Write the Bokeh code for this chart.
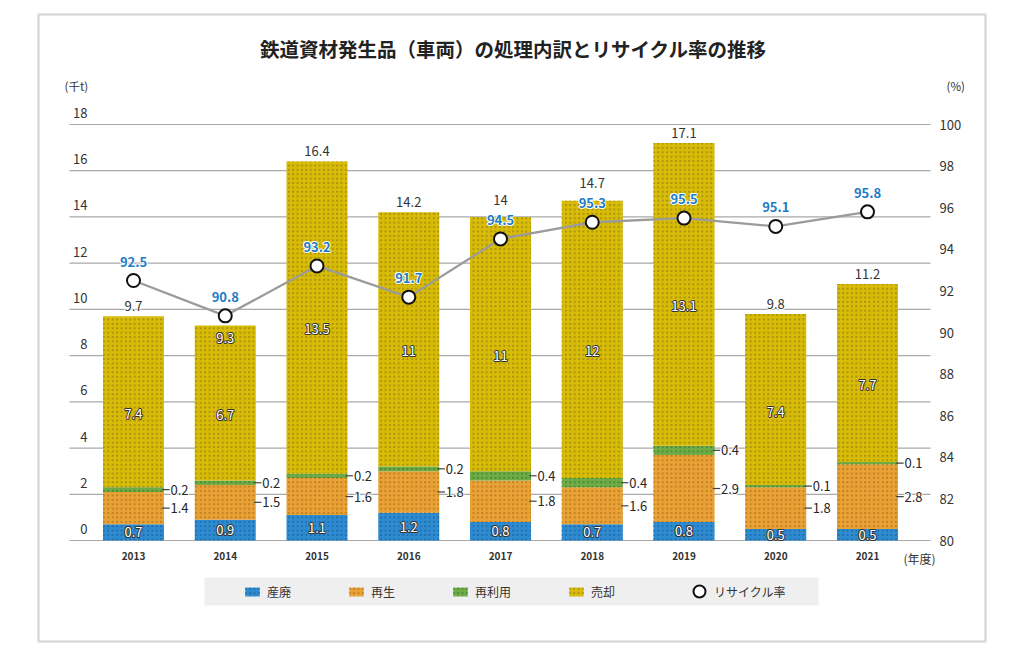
from bokeh.plotting import figure
from bokeh.models import (Range1d, LinearAxis, FixedTicker, Legend, LegendItem,
                          Label, BoxAnnotation, ColumnDataSource)
from bokeh.core.properties import value
from bokeh.embed import file_html
from bokeh.resources import INLINE

# ---------------- data ----------------
years = ["2013", "2014", "2015", "2016", "2017", "2018", "2019", "2020", "2021"]
sanpai = [0.7, 0.9, 1.1, 1.2, 0.8, 0.7, 0.8, 0.5, 0.5]        # 産廃
saisei = [1.4, 1.5, 1.6, 1.8, 1.8, 1.6, 2.9, 1.8, 2.8]        # 再生
sairiyou = [0.2, 0.2, 0.2, 0.2, 0.4, 0.4, 0.4, 0.1, 0.1]      # 再利用
baikyaku = [7.4, 6.7, 13.5, 11, 11, 12, 13.1, 7.4, 7.7]       # 売却
totals = [9.7, 9.3, 16.4, 14.2, 14, 14.7, 17.1, 9.8, 11.2]    # 合計
rates = [92.5, 90.8, 93.2, 91.7, 94.5, 95.3, 95.5, 95.1, 95.8]  # リサイクル率
left_ticks = [0, 2, 4, 6, 8, 10, 12, 14, 16, 18]
right_ticks = [80, 82, 84, 86, 88, 90, 92, 94, 96, 98, 100]
series_names = ["産廃", "再生", "再利用", "売却"]
rate_name = "リサイクル率"
title_text = "鉄道資材発生品（車両）の処理内訳とリサイクル率の推移"

FONT = "Noto Sans CJK JP"
fill_colors = ["#2f8bd0", "#e8a236", "#6fab47", "#d8bc06"]
dot_colors = ["#1f6fae", "#c17f22", "#4c8a32", "#a89212"]
BAR_W = 0.665

# ---------------- layout geometry (pixels) ----------------
W, H = 1024, 659
FX0, FX1, FY0, FY1 = 38, 985, 14, 641          # outer bordered box = plot frame
PX_L, PX_R, PX_TOP, PX_BOT = 69, 930, 124, 540  # inner chart area
X0_PX, X_STEP = 133, 91.75
Y_STEP = (PX_BOT - PX_TOP) / (left_ticks[-1] - left_ticks[0])
R_STEP = (PX_BOT - PX_TOP) / (right_ticks[-1] - right_ticks[0])
LAB_RAISE = 11.5   # left tick labels sit above their grid line


def px_x(px):
    return (px - X0_PX) / X_STEP


def px_y(py):
    return left_ticks[0] + (PX_BOT - py) / Y_STEP


def px_r(py):
    return right_ticks[0] + (PX_BOT - py) / R_STEP


def y_px(v):
    return PX_BOT - (v - left_ticks[0]) * Y_STEP


def r_px(v):
    return PX_BOT - (v - right_ticks[0]) * R_STEP


fmt = lambda v: f"{v:g}"
xs = list(range(len(years)))

src = ColumnDataSource(dict(x=xs, sanpai=sanpai, saisei=saisei,
                            sairiyou=sairiyou, baikyaku=baikyaku))

p = figure(width=W, height=H, output_backend="svg", toolbar_location=None, tools="",
           x_range=Range1d(px_x(FX0), px_x(FX1)), y_range=Range1d(px_y(FY1), px_y(FY0)),
           min_border_left=FX0, min_border_right=W - FX1,
           min_border_top=FY0, min_border_bottom=H - FY1,
           outline_line_color="#d2d2d2", outline_line_width=2,
           background_fill_color="white", border_fill_color="white")
p.extra_y_ranges = {
    "rate": Range1d(px_r(FY1), px_r(FY0)),
    "lab": Range1d(px_y(FY1 + LAB_RAISE), px_y(FY0 + LAB_RAISE)),
}
p.grid.visible = False

# x axis (labels pulled up into the frame)
xa = p.xaxis[0]
xa.ticker = FixedTicker(ticks=xs)
xa.major_label_overrides = {i: y for i, y in zip(xs, years)}
xa.axis_line_color = None
xa.major_tick_line_color = None
xa.minor_tick_line_color = None
xa.major_tick_out = 0
xa.major_label_text_font = FONT
xa.major_label_text_font_style = "bold"
xa.major_label_text_font_size = "10px"
xa.major_label_text_color = "#333333"
xa.major_label_standoff = -(FY1 - 551)

# left axis: labels right-aligned at x=87, sitting just above the grid lines
ya = p.yaxis[0]
ya.y_range_name = "lab"
ya.ticker = FixedTicker(ticks=left_ticks)
ya.axis_line_color = None
ya.major_tick_line_color = None
ya.minor_tick_line_color = None
ya.major_tick_out = 0
ya.major_label_standoff = -(87 - FX0)
ya.major_label_text_font = FONT
ya.major_label_text_font_size = "13px"
ya.major_label_text_color = "#333333"

# right axis
ra = LinearAxis(y_range_name="rate", ticker=FixedTicker(ticks=right_ticks))
ra.axis_line_color = None
ra.major_tick_line_color = None
ra.minor_tick_line_color = None
ra.major_tick_out = 0
ra.major_label_standoff = -(FX1 - 939)
ra.major_label_text_font = FONT
ra.major_label_text_font_size = "13px"
ra.major_label_text_color = "#333333"
p.add_layout(ra, "right")

# grid lines across the inner chart area
p.segment([px_x(PX_L)] * len(left_ticks), left_ticks, [px_x(PX_R)] * len(left_ticks), left_ticks,
          line_color="#a9a9a9", line_width=1.2)

# legend background
p.add_layout(BoxAnnotation(left=px_x(204), right=px_x(818), top=px_y(577), bottom=px_y(605),
                           fill_color="#efefef", fill_alpha=1, line_color=None, level="underlay"))

# stacked bars
bar_rs = p.vbar_stack(["sanpai", "saisei", "sairiyou", "baikyaku"], x="x", width=BAR_W,
                      source=src, fill_color=fill_colors, line_color=None,
                      hatch_pattern="dot", hatch_color=dot_colors,
                      hatch_scale=4.4, hatch_weight=1.0)

# recycling rate line
p.line(xs, rates, y_range_name="rate", line_color="#9b9b9b", line_width=2.3)
pt_r = p.scatter(xs, rates, y_range_name="rate", size=13, fill_color="white",
                 line_color="#111111", line_width=2)


def halo_text(x, y, texts, color, halo, y_range_name="default", **kw):
    common = dict(text_font=value(FONT), text_font_size="13px", y_range_name=y_range_name)
    common.update(kw)
    p.text(x, y, text=texts, text_color=halo, text_outline_color=halo, **common)
    p.text(x, y, text=texts, text_color=color, **common)


dark = "#262626"
base1 = list(sanpai)
base2 = [a + b for a, b in zip(sanpai, saisei)]
base3 = [a + b + c for a, b, c in zip(sanpai, saisei, sairiyou)]
stack_top = [a + b for a, b in zip(base3, baikyaku)]

# 産廃 (inside, white with dark edge)
halo_text(xs, [v / 2 for v in sanpai], [fmt(v) for v in sanpai], "white", "#333333",
          text_align="center", text_baseline="middle")
# 売却 (inside)
halo_text(xs, [b + v / 2 for b, v in zip(base3, baikyaku)], [fmt(v) for v in baikyaku],
          "white", "#333333", text_align="center", text_baseline="middle", y_offset=12)

# 再生 / 再利用 side labels with leader lines
edge = BAR_W / 2
side_y = [b + v / 2 for b, v in zip(base1, saisei)] + [b + v / 2 for b, v in zip(base2, sairiyou)]
side_t = [fmt(v) for v in saisei] + [fmt(v) for v in sairiyou]
side_x = xs + xs
p.segment([x + edge - 0.02 for x in side_x], side_y, [x + edge + 0.062 for x in side_x], side_y,
          line_color="#444444", line_width=1.2)
halo_text([x + edge + 0.07 for x in side_x], side_y, side_t, dark, "white",
          text_align="left", text_baseline="middle")

# rate labels (blue with white halo), centred 19 px above the marker
RATE_LIFT = 19
rate_lab_px = [r_px(r) - RATE_LIFT for r in rates]
halo_text(xs, rates, [fmt(v) for v in rates], "#1d7cc4", "white", y_range_name="rate",
          text_align="center", text_baseline="middle", y_offset=-RATE_LIFT, text_font_style="bold")

# totals: above the bar; pushed above the rate label if they would collide;
# inside the bar top if the marker sits right on the bar
ax_x, ax_y, ax_t, in_x, in_t = [], [], [], [], []
for x, t, top, r, rl in zip(xs, totals, stack_top, rates, rate_lab_px):
    top_px = y_px(top)
    mark_px = r_px(r)
    if 0 < top_px - mark_px < Y_STEP:
        in_x.append(x)
        in_t.append(t)
        continue
    lab_px = top_px - 10
    if abs(lab_px - rl) < 16:
        lab_px = rl - 20
    ax_x.append(x)
    ax_y.append(px_y(lab_px))
    ax_t.append(t)
halo_text(ax_x, ax_y, [fmt(v) for v in ax_t], "#333333", "white",
          text_align="center", text_baseline="middle")
halo_text(in_x, in_t, [fmt(v) for v in in_t], "white", "#333333",
          text_align="center", text_baseline="top", y_offset=7)


# title and unit labels
def px_label(x, y, txt, size="12px", align="left", style="normal", color="#333333"):
    p.add_layout(Label(x=px_x(x), y=px_y(y), text=txt, text_align=align,
                       text_baseline="middle", text_font=FONT, text_font_size=size,
                       text_font_style=style, text_color=color))


px_label(513, 48, title_text, size="19.5px", align="center", style="bold", color="#222222")
px_label(64, 85, "(千t)", size="11.5px")
px_label(946, 85, "(%)", size="11.5px")
px_label(903, 558, "(年度)")

# legends
items = [LegendItem(label=n, renderers=[r]) for n, r in zip(series_names, bar_rs)]
leg = Legend(items=items, orientation="horizontal", location=(243 - FX0, FY1 - 601),
             background_fill_alpha=0, border_line_color=None, padding=0, margin=0,
             spacing=56, glyph_width=18, glyph_height=11, label_standoff=6, label_height=20,
             label_text_font=FONT, label_text_font_size="12px", label_text_color="#333333")
p.add_layout(leg)
leg2 = Legend(items=[LegendItem(label=rate_name, renderers=[pt_r])], orientation="horizontal",
              location=(684 - FX0, FY1 - 606),
              background_fill_alpha=0, border_line_color=None, padding=0, margin=0,
              glyph_width=30, glyph_height=30, label_standoff=0, label_height=20,
              label_text_font=FONT, label_text_font_size="12px", label_text_color="#333333")
p.add_layout(leg2)

open("out.html", "w").write(file_html(p, INLINE))
